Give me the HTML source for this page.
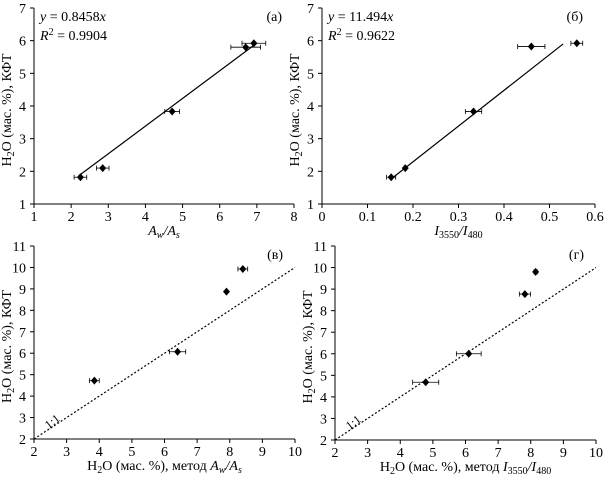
<!DOCTYPE html>
<html><head><meta charset="utf-8"><style>
body{margin:0;background:#fff}
svg{display:block;font-family:"Liberation Serif",serif;}
</style></head><body>
<svg id="s" width="605" height="479" viewBox="0 0 605 479" xmlns="http://www.w3.org/2000/svg"></svg>
<script>
const s=document.getElementById('s');let h='';
function panel(o){
 const {x0,x1,y0,y1,xmin,xmax,ymin,ymax,xt,yt,xlab}=o;
 const X=v=>x0+(v-xmin)/(xmax-xmin)*(x1-x0), Y=v=>y0-(v-ymin)/(ymax-ymin)*(y0-y1);
 h+=`<line x1="${x0}" y1="${y1}" x2="${x0}" y2="${y0}" stroke="#000" stroke-width="1"/><line x1="${x0}" y1="${y0}" x2="${x1}" y2="${y0}" stroke="#000" stroke-width="1"/>`;
 xt.forEach(v=>{const x=X(v);h+=`<line x1="${x}" y1="${y0}" x2="${x}" y2="${y0+4}" stroke="#000"/><text x="${x}" y="${y0+17}" font-size="14" text-anchor="middle">${v}</text>`;});
 yt.forEach(v=>{const y=Y(v);h+=`<line x1="${x0-4}" y1="${y}" x2="${x0}" y2="${y}" stroke="#000"/><text x="${x0-8}" y="${y+5}" font-size="14" text-anchor="end">${v}</text>`;});
 if(o.line){const [a,b,c,d]=o.line;h+=`<line x1="${X(a)}" y1="${Y(b)}" x2="${X(c)}" y2="${Y(d)}" stroke="#000" stroke-width="1.2" ${o.dash?'stroke-dasharray="2,2"':''}/>`;}
 o.pts.forEach(([px,py,e])=>{const x=X(px),y=Y(py);
  if(e){const a=X(px-e),b=X(px+e);h+=`<line x1="${a}" y1="${y}" x2="${b}" y2="${y}" stroke="#000" stroke-width="0.8"/><line x1="${a}" y1="${y-2.5}" x2="${a}" y2="${y+2.5}" stroke="#000" stroke-width="0.8"/><line x1="${b}" y1="${y-2.5}" x2="${b}" y2="${y+2.5}" stroke="#000" stroke-width="0.8"/>`;}
  h+=`<path d="M${x} ${y-4}L${x+3.5} ${y}L${x} ${y+4}L${x-3.5} ${y}Z" fill="#000"/>`;});
 h+=`<text x="${(x0+x1)/2}" y="${y0+31}" font-size="14" text-anchor="middle">${xlab}</text>`;
 const cy=(y0+y1)/2;
 h+=`<text transform="translate(${x0-23},${cy+4}) rotate(-90)" font-size="14" text-anchor="middle">H<tspan font-size="10" dy="3">2</tspan><tspan dy="-3">O  (мас. %), КФТ</tspan></text>`;
 h+=`<text x="${x1-12}" y="${y1+13}" font-size="14" text-anchor="end">${o.tag}</text>`;
 if(o.eq){h+=`<text x="${x0+6}" y="${y1+13}" font-size="14"><tspan font-style="italic">y</tspan> = ${o.eq}<tspan font-style="italic">x</tspan></text><text x="${x0+6}" y="${y1+32}" font-size="14"><tspan font-style="italic">R</tspan><tspan font-size="10" dy="-5">2</tspan><tspan dy="5"> = ${o.r2}</tspan></text>`;}
 if(o.dash){h+=`<text transform="translate(${X(2.45)},${Y(2.45)}) rotate(-38)" font-size="12">1:1</text>`;}
}
const ys7=[1,2,3,4,5,6,7], ys11=[2,3,4,5,6,7,8,9,10,11];
panel({x0:34,x1:294,y0:204,y1:8,xmin:1,xmax:8,ymin:1,ymax:7,xt:[1,2,3,4,5,6,7,8],yt:ys7,
 xlab:'<tspan font-style="italic">A<tspan font-size="10" dy="3">w</tspan><tspan dy="-3">/A</tspan><tspan font-size="10" dy="3">s</tspan></tspan>',
 line:[2.2,1.86,6.9,5.84],pts:[[2.25,1.82,0.17],[2.85,2.1,0.17],[4.72,3.83,0.2],[6.7,5.8,0.4],[6.92,5.92,0.32]],tag:'(a)',eq:'0.8458',r2:'0.9904'});
panel({x0:322,x1:595,y0:204,y1:8,xmin:0,xmax:0.6,ymin:1,ymax:7,xt:[0,0.1,0.2,0.3,0.4,0.5,0.6],yt:ys7,
 xlab:'<tspan font-style="italic">I</tspan><tspan font-size="10" dy="3">3550</tspan><tspan dy="-3" font-style="italic">/I</tspan><tspan font-size="10" dy="3">480</tspan>',
 line:[0.155,1.8,0.53,5.9],pts:[[0.152,1.82,0.01],[0.183,2.1,0],[0.333,3.83,0.018],[0.46,5.82,0.03],[0.56,5.92,0.013]],tag:'(б)',eq:'11.494',r2:'0.9622'});
panel({x0:34,x1:295,y0:439,y1:246,xmin:2,xmax:10,ymin:2,ymax:11,xt:[2,3,4,5,6,7,8,9,10],yt:ys11,
 xlab:'H<tspan font-size="10" dy="3">2</tspan><tspan dy="-3">O (мас. %), метод </tspan><tspan font-style="italic">A<tspan font-size="10" dy="3">w</tspan><tspan dy="-3">/A</tspan><tspan font-size="10" dy="3">s</tspan></tspan>',
 line:[2,2,10,10],dash:1,pts:[[3.85,4.72,0.15],[6.4,6.07,0.25],[7.9,8.87,0],[8.4,9.93,0.15]],tag:'(в)'});
panel({x0:335,x1:596,y0:440,y1:246,xmin:2,xmax:10,ymin:2,ymax:11,xt:[2,3,4,5,6,7,8,9,10],yt:ys11,
 xlab:'H<tspan font-size="10" dy="3">2</tspan><tspan dy="-3">O (мас. %), метод </tspan><tspan font-style="italic">I</tspan><tspan font-size="10" dy="3">3550</tspan><tspan dy="-3" font-style="italic">/I</tspan><tspan font-size="10" dy="3">480</tspan>',
 line:[2,2,10,10],dash:1,pts:[[4.78,4.68,0.4],[6.1,6.0,0.38],[7.82,8.77,0.17],[8.15,9.8,0.05]],tag:'(г)'});
s.innerHTML=h;
</script>
</body></html>
